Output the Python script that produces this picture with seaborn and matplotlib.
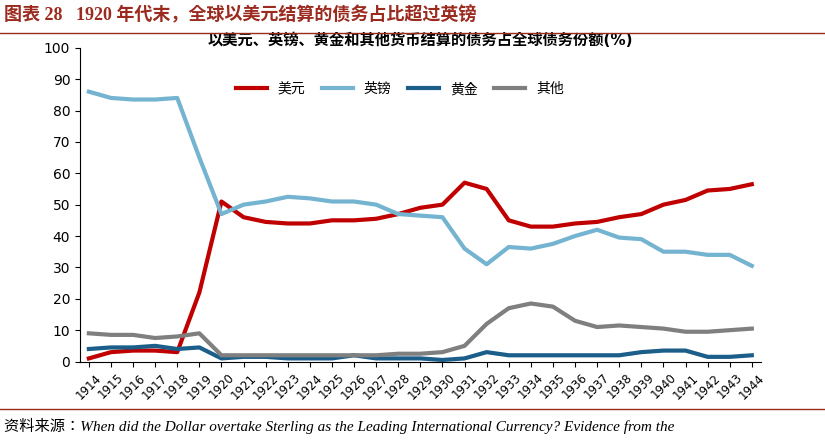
import matplotlib.pyplot as plt
import pandas as pd
import seaborn as sns

CJK = ["Noto Sans CJK SC", "Noto Sans CJK JP", "Noto Sans CJK TC", "Noto Sans CJK KR"]
plt.rcParams["font.family"] = ["DejaVu Sans"] + CJK
SERIF = ["Liberation Serif"] + CJK

years = list(range(1914, 1945))
usd = [1, 3, 3.5, 3.5, 3, 22, 51, 46, 44.5, 44, 44, 45, 45, 45.5, 47, 49, 50, 57, 55, 45, 43,
       43, 44, 44.5, 46, 47, 50, 51.5, 54.5, 55, 56.5]
gbp = [86, 84, 83.5, 83.5, 84, 65, 47, 50, 51, 52.5, 52, 51, 51, 50, 47, 46.5, 46, 36, 31, 36.5,
       36, 37.5, 40, 42, 39.5, 39, 35, 35, 34, 34, 30.5]
gold = [4, 4.5, 4.5, 5, 4, 4.5, 1, 1.5, 1.5, 1, 1, 1, 2, 1, 1, 1, 0.5, 1, 3, 2, 2, 2, 2, 2, 2,
        3, 3.5, 3.5, 1.5, 1.5, 2]
other = [9, 8.5, 8.5, 7.5, 8, 9, 2, 2, 2, 2, 2, 2, 2, 2, 2.5, 2.5, 3, 5, 12, 17, 18.5, 17.5, 13,
         11, 11.5, 11, 10.5, 9.5, 9.5, 10, 10.5]
series = ["美元", "英镑", "黄金", "其他"]
colors = ["#C00000", "#74B4D0", "#1B5E8A", "#7F7F7F"]

df = pd.DataFrame({"year": years, "美元": usd, "英镑": gbp, "黄金": gold, "其他": other})
long = df.melt(id_vars="year", var_name="币种", value_name="份额")

fig = plt.figure(figsize=(8.25, 4.42), dpi=100)
ax = fig.add_axes([0.097, 0.182, 0.825, 0.71])
sns.lineplot(data=long, x="year", y="份额", hue="币种", hue_order=series,
             palette=colors, linewidth=3, ax=ax, solid_joinstyle="round")

ax.set_xlim(1913.6, 1944.4)
ax.set_ylim(0, 100)
ax.set_yticks(range(0, 101, 10))
ax.set_xticks(years)
ax.set_xticklabels([str(y) for y in years], rotation=45, fontsize=8.5)
ax.tick_params(axis="y", labelsize=10)
ax.set_xlabel("")
ax.set_ylabel("")
for s in ["top", "right"]:
    ax.spines[s].set_visible(False)
ax.set_title("以美元、英镑、黄金和其他货币结算的债务占全球债务份额(%)",
             fontsize=11, fontweight="bold", pad=-4)
ax.legend(loc="upper center", bbox_to_anchor=(0.47, 0.93), ncol=4, frameon=False,
          fontsize=10, handlelength=2.2, columnspacing=1.2)

fig.text(0.005, 0.955, "图表 28   1920 年代末，全球以美元结算的债务占比超过英镑",
         color="#9B2B1F", fontsize=13, fontweight="bold", fontfamily=SERIF)
fig.add_artist(plt.Line2D([0, 1], [0.925, 0.925], color="#9B2B1F", linewidth=1))
fig.add_artist(plt.Line2D([0, 1], [0.075, 0.075], color="#9B2B1F", linewidth=1))
fig.text(0.005, 0.025, "资料来源：When did the Dollar overtake Sterling as the Leading International Currency? Evidence from the",
         fontsize=11, style="italic", fontfamily=SERIF)

fig.savefig("out.png", dpi=100)
